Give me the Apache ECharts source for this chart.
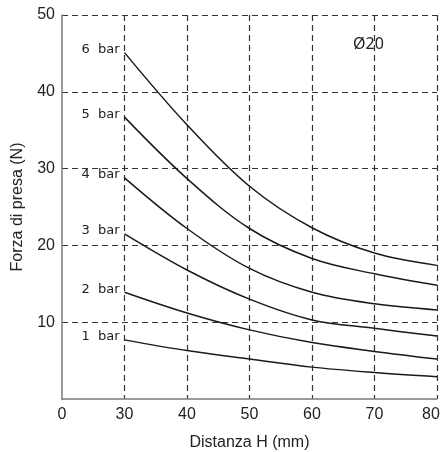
<!DOCTYPE html>
<html>
<head>
<meta charset="utf-8">
<script src="https://cdn.jsdelivr.net/npm/echarts@6/dist/echarts.min.js"></script>
<style>html,body{margin:0;padding:0;width:100%;height:100%;overflow:hidden;background:#fff}#c{width:100%;height:100%}</style>
</head>
<body>
<div id="c"></div>
<script>
// x positions (mm); the first axis slot (value 20) is labelled "0"
const distances = [30, 40, 50, 60, 70, 80];
const pressureLabels = ['1  bar', '2  bar', '3  bar', '4  bar', '5  bar', '6  bar'];
const force1bar = [7.7, 6.3, 5.2, 4.15, 3.45, 2.9];
const force2bar = [13.9, 11.2, 9.0, 7.35, 6.2, 5.2];
const force3bar = [21.5, 16.8, 13.0, 10.3, 9.2, 8.2];
const force4bar = [28.8, 22.2, 17.0, 13.9, 12.4, 11.6];
const force5bar = [36.7, 28.7, 22.2, 18.3, 16.3, 14.8];
const force6bar = [45.1, 35.7, 27.7, 22.3, 19.0, 17.4];
const xTickLabels = {20: '0', 30: '30', 40: '40', 50: '50', 60: '60', 70: '70', 80: '80'};
const yTickLabels = [10, 20, 30, 40, 50];
const diameterLabel = 'Ø20';

const allForces = [force1bar, force2bar, force3bar, force4bar, force5bar, force6bar];

const series = allForces.map((vals, si) => ({
  type: 'line',
  smooth: 0.35,
  symbol: 'circle',
  symbolSize: 0,
  showSymbol: true,
  itemStyle: { color: '#1a1a1a' },
  lineStyle: { color: '#1a1a1a', width: 1.5 },
  label: { show: false },
  data: vals.map((v, i) => {
    const item = { value: [distances[i], v] };
    if (i === 0) {
      item.label = {
        show: true, position: 'left', distance: 5, offset: [0, -3],
        formatter: pressureLabels[si],
        fontFamily: 'DejaVu Sans', fontSize: 13, color: '#222'
      };
    }
    return item;
  })
}));

const chart = echarts.init(document.getElementById('c'), null, { renderer: 'canvas' });
chart.setOption({
  animation: false,
  backgroundColor: '#fff',
  grid: { left: 62, right: 6, top: 15, bottom: 53, containLabel: false, outerBoundsMode: 'none' },
  xAxis: {
    type: 'value', min: 20, max: 80, interval: 10,
    name: 'Distanza H (mm)', nameLocation: 'middle', nameGap: 36,
    nameTextStyle: { fontFamily: 'Liberation Sans', fontSize: 16, color: '#222' },
    axisLine: { show: true, onZero: false, lineStyle: { color: '#7a7a7a', width: 1.5 } },
    axisTick: { show: false },
    axisLabel: {
      margin: 8, fontFamily: 'Liberation Sans', fontSize: 16, color: '#222',
      formatter: v => {
        const t = xTickLabels[v];
        if (t === undefined) return '';
        return v === 80 ? '{r|' + t + '}' : t;
      },
      rich: { r: { fontFamily: 'Liberation Sans', fontSize: 16, color: '#222', padding: [0, 12, 0, 0] } }
    },
    splitLine: { show: true, showMinLine: false, lineStyle: { color: '#333', type: [6, 4], width: 1.2 } }
  },
  yAxis: {
    type: 'value', min: 0, max: 50, interval: 10,
    name: 'Forza di presa (N)', nameLocation: 'middle', nameGap: 36,
    nameTextStyle: { fontFamily: 'Liberation Sans', fontSize: 16, color: '#222' },
    axisLine: { show: true, lineStyle: { color: '#7a7a7a', width: 1.5 } },
    axisTick: { show: false },
    axisLabel: {
      margin: 7, fontFamily: 'Liberation Sans', fontSize: 16, color: '#222',
      showMinLabel: false,
      formatter: v => yTickLabels.indexOf(v) >= 0 ? String(v) : ''
    },
    splitLine: { show: true, showMinLine: false, lineStyle: { color: '#333', type: [6, 4], width: 1.2 } }
  },
  graphic: [{
    type: 'text', left: 353, top: 36,
    style: { text: diameterLabel, font: '16px "Noto Sans"', fill: '#222' }
  }],
  series: series
});
</script>
</body>
</html>
